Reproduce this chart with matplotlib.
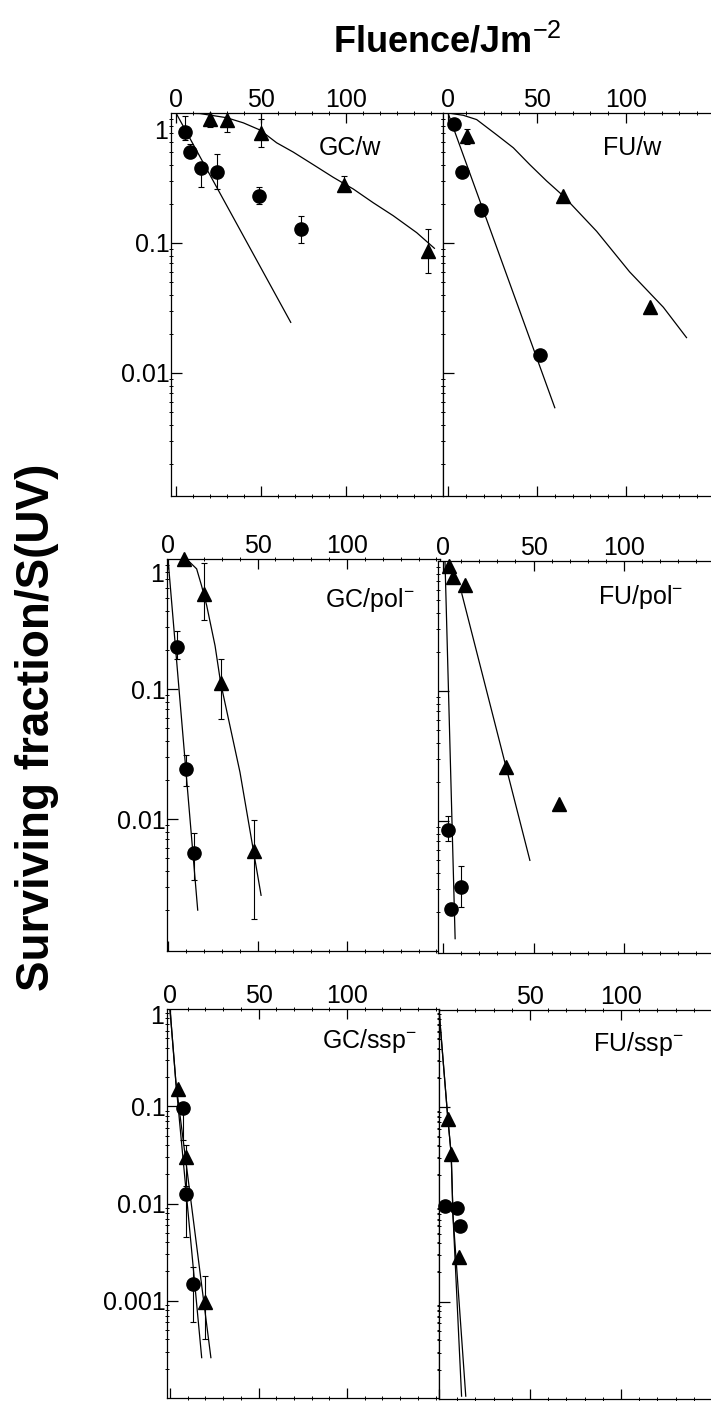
import matplotlib
matplotlib.use('Agg')
import matplotlib.pyplot as plt
from matplotlib.ticker import MultipleLocator, FixedLocator, LogLocator, NullFormatter, FixedFormatter
import numpy as np

plt.rcParams['font.family'] = ['Liberation Sans', 'DejaVu Sans']
plt.rcParams['mathtext.fontset'] = 'custom'
plt.rcParams['mathtext.rm'] = 'Liberation Sans'
plt.rcParams['mathtext.it'] = 'Liberation Sans:italic'
plt.rcParams['mathtext.bf'] = 'Liberation Sans:bold'

# ---------------- data ----------------
# GC/w
gcw_tri_x = [20, 30, 50, 99, 148]
gcw_tri_y = [0.90, 0.88, 0.70, 0.28, 0.087]
gcw_tri_lo = [0.78, 0.72, 0.55, 0.25, 0.059]
gcw_tri_hi = [1.0, 1.0, 0.90, 0.33, 0.127]
gcw_cir_x = [5, 8, 14.5, 24, 49, 73.5]
gcw_cir_y = [0.72, 0.50, 0.38, 0.35, 0.23, 0.127]
gcw_cir_lo = [0.62, 0.45, 0.27, 0.26, 0.20, 0.10]
gcw_cir_hi = [0.95, 0.58, 0.41, 0.48, 0.27, 0.16]
gcw_trifit_x = [0, 14.1, 29.8, 39.6, 49.4, 59.2, 69, 80.8, 92.5, 104.3, 116, 127.8, 141.6, 152]
gcw_trifit_y = [1.0, 0.99, 0.92, 0.84, 0.74, 0.59, 0.50, 0.40, 0.32, 0.26, 0.204, 0.162, 0.12, 0.091]
gcw_cirfit_x = [0, 67.5]
gcw_cirfit_y = [1.0, 0.0245]

# FU/w
fuw_tri_x = [10.5, 64.8, 113.5]
fuw_tri_y = [0.66, 0.23, 0.032]
fuw_tri_lo = [0.58, 0.23, 0.032]
fuw_tri_hi = [0.75, 0.23, 0.032]
fuw_cir_x = [3.4, 7.7, 18.4, 51.7]
fuw_cir_y = [0.82, 0.35, 0.18, 0.0137]
fuw_cir_lo = [0.82, 0.35, 0.18, 0.0137]
fuw_cir_hi = [0.82, 0.35, 0.18, 0.0137]
fuw_trifit_x = [0, 8.6, 16.1, 27.3, 36.7, 46, 55.4, 64.8, 83.5, 102, 121, 134]
fuw_trifit_y = [1.0, 0.96, 0.89, 0.68, 0.54, 0.40, 0.30, 0.23, 0.123, 0.060, 0.032, 0.0187]
fuw_cirfit_x = [0, 60]
fuw_cirfit_y = [1.0, 0.0054]

# GC/pol-
gcp_tri_x = [9.1, 20.1, 29.4, 48.2]
gcp_tri_y = [1.0, 0.54, 0.112, 0.0057]
gcp_tri_lo = [1.0, 0.34, 0.059, 0.0017]
gcp_tri_hi = [1.0, 0.93, 0.17, 0.0098]
gcp_cir_x = [5.2, 9.9, 14.5]
gcp_cir_y = [0.21, 0.0245, 0.0055]
gcp_cir_lo = [0.17, 0.018, 0.0034]
gcp_cir_hi = [0.28, 0.031, 0.0079]
gcp_trifit_x = [6.7, 12, 16, 18.8, 21.6, 26.3, 29.4, 40.2, 52]
gcp_trifit_y = [1.0, 0.95, 0.84, 0.62, 0.44, 0.215, 0.112, 0.023, 0.0026]
gcp_cirfit_x = [0, 16.6]
gcp_cirfit_y = [1.0, 0.002]

# FU/pol-
fup_tri_x = [3.5, 5.4, 12.2, 35, 64]
fup_tri_y = [0.92, 0.75, 0.65, 0.026, 0.0135]
fup_tri_lo = [0.92, 0.75, 0.65, 0.026, 0.0135]
fup_tri_hi = [0.92, 0.75, 0.65, 0.026, 0.0135]
fup_cir_x = [3, 10, 4.3]
fup_cir_y = [0.0085, 0.0031, 0.0021]
fup_cir_lo = [0.007, 0.0022, 0.0021]
fup_cir_hi = [0.011, 0.0045, 0.0021]
fup_trifit_x = [10.4, 48]
fup_trifit_y = [0.56, 0.005]
fup_cirfit_x = [1.1, 6.7]
fup_cirfit_y = [1.0, 0.00125]

# GC/ssp-
gcs_tri_x = [4.8, 9.1, 19.7]
gcs_tri_y = [0.15, 0.030, 0.00096]
gcs_tri_lo = [0.15, 0.015, 0.0004]
gcs_tri_hi = [0.15, 0.040, 0.0018]
gcs_cir_x = [7.6, 8.9, 12.8]
gcs_cir_y = [0.095, 0.0125, 0.0015]
gcs_cir_lo = [0.045, 0.0045, 0.0006]
gcs_cir_hi = [0.10, 0.0125, 0.0022]
gcs_trifit_x = [0, 3.4, 23.1]
gcs_trifit_y = [1.0, 0.17, 0.00026]
gcs_cirfit_x = [0, 3.4, 17.9]
gcs_cirfit_y = [1.0, 0.17, 0.00026]

# FU/ssp-
fus_tri_x = [4.9, 6.7, 11.2]
fus_tri_y = [0.075, 0.033, 0.0029]
fus_tri_lo = [0.075, 0.033, 0.0029]
fus_tri_hi = [0.075, 0.033, 0.0029]
fus_cir_x = [3.1, 10.1, 11.4]
fus_cir_y = [0.0096, 0.0091, 0.006]
fus_cir_lo = [0.0096, 0.0091, 0.006]
fus_cir_hi = [0.0096, 0.0091, 0.006]
fus_trifit_x = [0, 4.9, 6.7, 7.7, 14.7]
fus_trifit_y = [1.0, 0.075, 0.033, 0.0076, 0.000107]
fus_cirfit_x = [0, 4.9, 6.7, 7.7, 12.4]
fus_cirfit_y = [1.0, 0.075, 0.033, 0.0076, 0.000107]

panel_labels = ['GC/w', 'FU/w', 'GC/pol$^{-}$', 'FU/pol$^{-}$', 'GC/ssp$^{-}$', 'FU/ssp$^{-}$']
x_ticks = [0, 50, 100]
y_ticks_top = [0.1, 0.01]
y_labels_top = ['0.1', '0.01']
y_ticks_bot = [0.1, 0.01, 0.001]
y_labels_bot = ['0.1', '0.01', '0.001']
title_text = 'Fluence/Jm$^{-2}$'
ylabel_text = 'Surviving fraction/S(UV)'

# ---------------- layout (pixels) ----------------
W, H = 711, 1401
fig = plt.figure(figsize=(W / 100, H / 100), dpi=100)

geoms = [
    dict(left=171, right=443, top=113, bottom=496, x0=176, ppu=1.70, ylo=0.00113, ylab=True, one_off=19,
         xlabels=['0', '50', '100'], lab=(350, 148), bot=False),
    dict(left=443, right=760, top=113, bottom=496, x0=448, ppu=1.78, ylo=0.00113, ylab=False, one_off=0,
         xlabels=['0', '50', '100'], lab=(632, 148), bot=False),
    dict(left=167, right=440, top=559, bottom=951, x0=168, ppu=1.79, ylo=0.00097, ylab=True, one_off=16,
         xlabels=['0', '50', '100'], lab=(370, 600), bot=False),
    dict(left=438, right=760, top=561, bottom=953, x0=443, ppu=1.81, ylo=0.00097, ylab=False, one_off=0,
         xlabels=['0', '50', '100'], lab=(641, 597), bot=False),
    dict(left=167, right=439, top=1009, bottom=1398, x0=170, ppu=1.77, ylo=1e-4, ylab=True, one_off=8,
         xlabels=['0', '50', '100'], lab=(369, 1041), bot=True),
    dict(left=439, right=760, top=1010, bottom=1399, x0=439, ppu=1.82, ylo=1e-4, ylab=False, one_off=0,
         xlabels=['', '50', '100'], lab=(638, 1044), bot=True),
]

datasets = [
    (gcw_tri_x, gcw_tri_y, gcw_tri_lo, gcw_tri_hi, gcw_cir_x, gcw_cir_y, gcw_cir_lo, gcw_cir_hi,
     gcw_trifit_x, gcw_trifit_y, gcw_cirfit_x, gcw_cirfit_y),
    (fuw_tri_x, fuw_tri_y, fuw_tri_lo, fuw_tri_hi, fuw_cir_x, fuw_cir_y, fuw_cir_lo, fuw_cir_hi,
     fuw_trifit_x, fuw_trifit_y, fuw_cirfit_x, fuw_cirfit_y),
    (gcp_tri_x, gcp_tri_y, gcp_tri_lo, gcp_tri_hi, gcp_cir_x, gcp_cir_y, gcp_cir_lo, gcp_cir_hi,
     gcp_trifit_x, gcp_trifit_y, gcp_cirfit_x, gcp_cirfit_y),
    (fup_tri_x, fup_tri_y, fup_tri_lo, fup_tri_hi, fup_cir_x, fup_cir_y, fup_cir_lo, fup_cir_hi,
     fup_trifit_x, fup_trifit_y, fup_cirfit_x, fup_cirfit_y),
    (gcs_tri_x, gcs_tri_y, gcs_tri_lo, gcs_tri_hi, gcs_cir_x, gcs_cir_y, gcs_cir_lo, gcs_cir_hi,
     gcs_trifit_x, gcs_trifit_y, gcs_cirfit_x, gcs_cirfit_y),
    (fus_tri_x, fus_tri_y, fus_tri_lo, fus_tri_hi, fus_cir_x, fus_cir_y, fus_cir_lo, fus_cir_hi,
     fus_trifit_x, fus_trifit_y, fus_cirfit_x, fus_cirfit_y),
]

LW = 0.9
for i, (g, d) in enumerate(zip(geoms, datasets)):
    l, r, t, b = g['left'], g['right'], g['top'], g['bottom']
    ax = fig.add_axes([l / W, 1 - b / H, (r - l) / W, (b - t) / H])
    ax.set_yscale('log')
    xmin = -(g['x0'] - l) / g['ppu']
    xmax = (r - g['x0']) / g['ppu']
    ax.set_xlim(xmin, xmax)
    ax.set_ylim(g['ylo'], 1.0)
    for s in ax.spines.values():
        s.set_linewidth(LW)

    ax.xaxis.set_major_locator(FixedLocator(x_ticks))
    ax.xaxis.set_major_formatter(FixedFormatter(g['xlabels']))
    ax.xaxis.set_minor_locator(MultipleLocator(10))
    ax.tick_params(axis='x', which='major', top=True, bottom=True, labeltop=True,
                   labelbottom=False, direction='in', length=7, width=LW, pad=1, labelsize=18)
    ax.tick_params(axis='x', which='minor', top=True, bottom=True, direction='inout',
                   length=3, width=0.7)

    if g['bot']:
        ymaj, ylabs = y_ticks_bot, y_labels_bot
    else:
        ymaj, ylabs = y_ticks_top, y_labels_top
    ax.yaxis.set_major_locator(FixedLocator(ymaj))
    ax.yaxis.set_major_formatter(FixedFormatter(ylabs))
    ax.yaxis.set_minor_locator(LogLocator(base=10, subs=np.arange(2, 10)))
    ax.yaxis.set_minor_formatter(NullFormatter())
    ax.tick_params(axis='y', which='major', left=True, right=False, direction='in',
                   length=8, width=LW, pad=1, labelsize=18, labelleft=g['ylab'])
    ax.tick_params(axis='y', which='minor', left=True, right=True, direction='inout',
                   length=3, width=0.7)
    if g['ylab']:
        ax.annotate('1', xy=(0, 1), xycoords=('axes fraction', 'data'),
                    xytext=(-2, -g['one_off'] * 0.72), textcoords='offset points',
                    ha='right', va='center', fontsize=18, annotation_clip=False)

    (tx, ty, tlo, thi, cx, cy, clo, chi, tfx, tfy, cfx, cfy) = d
    ax.plot(tfx, tfy, color='black', lw=LW)
    ax.plot(cfx, cfy, color='black', lw=LW)
    ty_a = np.array(ty); cy_a = np.array(cy)
    ax.errorbar(tx, ty, yerr=[ty_a - np.array(tlo), np.array(thi) - ty_a], fmt='none',
                ecolor='black', elinewidth=0.8, capsize=2, capthick=0.8)
    ax.errorbar(cx, cy, yerr=[cy_a - np.array(clo), np.array(chi) - cy_a], fmt='none',
                ecolor='black', elinewidth=0.8, capsize=2, capthick=0.8)
    ax.plot(tx, ty, linestyle='none', marker='^', ms=10.5, color='black', clip_on=False, zorder=5)
    ax.plot(cx, cy, linestyle='none', marker='o', ms=9.5, color='black', clip_on=False, zorder=5)

    lx, ly = g['lab']
    fig.text(lx / W, 1 - ly / H, panel_labels[i], fontsize=18, ha='center', va='center')

fig.text(447 / W, 1 - 42 / H, title_text, fontsize=26, fontweight='bold', ha='center', va='center')
fig.text(37 / W, 1 - 727 / H, ylabel_text, rotation=90, fontsize=33, fontweight='bold',
         ha='center', va='center')

fig.savefig('out.png', dpi=100)
